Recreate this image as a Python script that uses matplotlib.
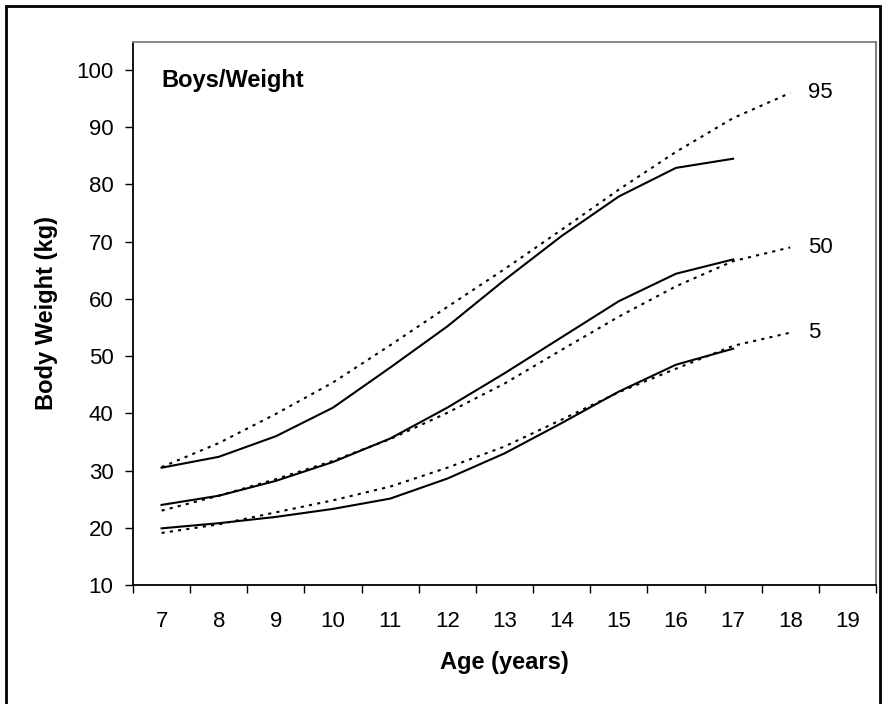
import matplotlib
matplotlib.use("Agg")
import matplotlib.pyplot as plt
from matplotlib.patches import Rectangle
import numpy as np

plt.rcParams['font.family'] = ['Liberation Sans', 'DejaVu Sans']

# Data
ages_ref = [7, 8, 9, 10, 11, 12, 13, 14, 15, 16, 17, 18]      # dotted reference curves
ages_study = [7, 8, 9, 10, 11, 12, 13, 14, 15, 16, 17]         # solid study curves
study_p95 = [30.5, 32.4, 36.0, 41.0, 48.0, 55.2, 63.3, 71.0, 77.9, 82.9, 84.5]
study_p50 = [24.0, 25.6, 28.2, 31.5, 35.6, 41.0, 47.0, 53.3, 59.6, 64.4, 66.9]
study_p5 = [19.9, 20.8, 21.9, 23.3, 25.1, 28.6, 33.0, 38.3, 43.8, 48.5, 51.3]
ref_p95 = [30.6, 34.8, 39.9, 45.4, 51.9, 58.6, 65.2, 72.1, 79.1, 85.7, 91.6, 96.0]
ref_p50 = [23.0, 25.6, 28.5, 31.7, 35.5, 40.1, 45.2, 51.1, 56.9, 62.2, 66.6, 69.0]
ref_p5 = [19.1, 20.6, 22.7, 24.8, 27.2, 30.5, 34.2, 38.9, 43.7, 47.8, 51.8, 54.1]
pct_labels = ["95", "50", "5"]
x_tick_labels = [str(a) for a in range(7, 20)]
y_ticks = list(range(10, 101, 10))

W, H = 884, 704
fig = plt.figure(figsize=(W / 100, H / 100), dpi=100)
fig.patch.set_facecolor('white')
fig.add_artist(Rectangle((6 / W, -10 / H), (880 - 6) / W, (698 + 10) / H,
                         transform=fig.transFigure, fill=False,
                         edgecolor='black', linewidth=2))

ax = fig.add_axes([133 / W, 1 - 585 / H, (876 - 133) / W, (585 - 42) / H])

for s in [study_p95, study_p50, study_p5]:
    ax.plot(ages_study, s, color='black', linewidth=1.5, solid_joinstyle='miter')
for r in [ref_p95, ref_p50, ref_p5]:
    ax.plot(ages_ref, r, color='black', linewidth=1.5, linestyle=(0, (1.5, 2.5)))

for lab, r in zip(pct_labels, [ref_p95, ref_p50, ref_p5]):
    ax.text(ages_ref[-1] + 0.31, r[-1], lab, fontsize=16, ha='left', va='center')

ax.text(7.0, 98.2, "Boys/Weight", fontsize=17, fontweight='bold', ha='left', va='center')

ax.set_xlim(6.5, 19.5)
ax.set_ylim(10, 104.9)
ax.set_xticks(np.arange(6.5, 20.0, 1.0))
ax.set_xticklabels([])
ax.set_xticks(range(7, 20), minor=True)
ax.set_xticklabels(x_tick_labels, minor=True)
ax.tick_params(axis='x', which='major', direction='out', length=6, width=1, color='black')
ax.tick_params(axis='x', which='minor', length=0, labelsize=16, pad=19)
ax.set_yticks(y_ticks)
ax.set_yticklabels([str(v) for v in y_ticks])
ax.tick_params(axis='y', direction='out', length=6, width=1, labelsize=16, pad=8)

ax.spines['left'].set_color('black')
ax.spines['bottom'].set_color('black')
ax.spines['left'].set_linewidth(1.3)
ax.spines['bottom'].set_linewidth(1.3)
ax.spines['top'].set_color('#808080')
ax.spines['right'].set_color('#808080')
ax.spines['top'].set_linewidth(1.3)
ax.spines['right'].set_linewidth(1.5)

fig.text(504.5 / W, 1 - 663 / H, "Age (years)", fontsize=17, fontweight='bold',
         ha='center', va='center')
fig.text(47 / W, 1 - 313.5 / H, "Body Weight (kg)", fontsize=17, fontweight='bold',
         ha='center', va='center', rotation=90)

fig.savefig("out.png", dpi=100)
